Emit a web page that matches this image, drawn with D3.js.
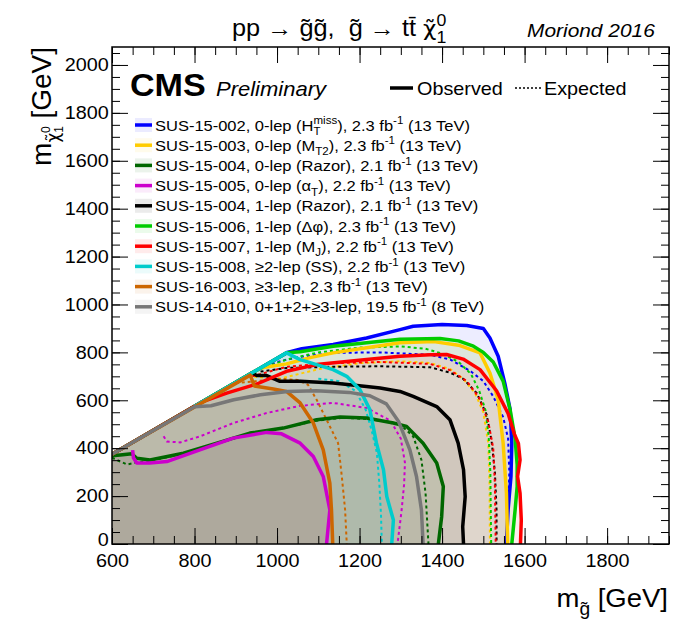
<!DOCTYPE html>
<html>
<head>
<meta charset="utf-8">
<script src="https://cdn.jsdelivr.net/npm/d3@7"></script>
<style>
  body { margin: 0; background: #fff; }
  svg { font-family: "Liberation Sans", Arial, Helvetica, sans-serif; }
  text { white-space: pre; }
</style>
</head>
<body>
<svg id="chart" width="674" height="623"></svg>
<script>
// analyses, in legend order
const labels = [
    "SUS-15-002, 0-lep (H_{T}^{miss}), 2.3 fb^{-1} (13 TeV)",
    "SUS-15-003, 0-lep (M_{T2}), 2.3 fb^{-1} (13 TeV)",
    "SUS-15-004, 0-lep (Razor), 2.1 fb^{-1} (13 TeV)",
    "SUS-15-005, 0-lep (α_{T}), 2.2 fb^{-1} (13 TeV)",
    "SUS-15-004, 1-lep (Razor), 2.1 fb^{-1} (13 TeV)",
    "SUS-15-006, 1-lep (Δφ), 2.3 fb^{-1} (13 TeV)",
    "SUS-15-007, 1-lep (M_{J}), 2.2 fb^{-1} (13 TeV)",
    "SUS-15-008, ≥2-lep (SS), 2.2 fb^{-1} (13 TeV)",
    "SUS-16-003, ≥3-lep, 2.3 fb^{-1} (13 TeV)",
    "SUS-14-010, 0+1+2+≥3-lep, 19.5 fb^{-1} (8 TeV)"
];
const colors = ["#0000ff", "#ffcc00", "#006600", "#cc00cc", "#000000",
                "#00cc00", "#ff0000", "#00cccc", "#cc6600", "#777777"];

// observed limits [m_gluino, m_LSP]
const obsHTmiss = [[600,375],[1025,800],[1060,815],[1136,833],[1217,860],[1298,895],[1330,909],[1400,916],[1460,912],[1500,900],[1516,860],[1536,784],[1552,672],[1565,561],[1569,421],[1567,282],[1560,142],[1556,0]];
const obsMT2 = [[600,375],[960,735],[1023,752],[1080,778],[1136,798],[1217,819],[1298,840],[1380,845],[1440,830],[1492,798],[1516,714],[1536,602],[1548,421],[1556,212],[1559,0]];
const obsRazor0l = [[600,368],[620,372],[648,377],[660,358],[692,351],[773,379],[854,421],[934,463],[1015,484],[1096,519],[1153,530],[1217,526],[1282,505],[1314,491],[1354,421],[1387,338],[1403,240],[1399,114],[1391,0]];
const obsAlphaT = [[650,392],[652,360],[660,338],[692,338],[733,344],[813,393],[894,442],[975,466],[1011,460],[1056,421],[1088,365],[1112,282],[1128,142],[1120,0]];
const obsRazor1l = [[600,375],[940,715],[951,703],[975,703],[1007,679],[1056,679],[1136,672],[1217,658],[1250,651],[1298,637],[1330,616],[1387,574],[1419,519],[1439,421],[1452,310],[1456,198],[1450,72],[1452,0]];
const obsDPhi = [[600,375],[1023,798],[1056,803],[1136,826],[1217,840],[1298,855],[1395,858],[1440,848],[1476,826],[1500,800],[1524,760],[1548,680],[1565,560],[1577,440],[1582,330],[1582,240],[1577,142],[1569,0]];
const obsMJ = [[600,375],[820,595],[878,630],[951,668],[1023,721],[1096,749],[1217,770],[1298,784],[1371,790],[1411,791],[1451,772],[1492,728],[1532,640],[1560,545],[1575,460],[1585,420],[1589,351],[1583,282],[1589,212],[1592,100],[1590,0]];
const obsSS = [[800,575],[1023,798],[1056,770],[1096,749],[1136,728],[1169,700],[1201,644],[1225,561],[1241,421],[1258,310],[1266,198],[1282,100],[1278,0]];
const obs3l = [[600,375],[935,705],[945,660],[991,647],[1023,637],[1056,589],[1088,505],[1112,393],[1128,254],[1132,142],[1135,0]];
const obsRun1 = [[600,375],[800,573],[840,577],[895,602],[960,623],[1025,637],[1095,640],[1175,633],[1225,619],[1265,585],[1295,510],[1322,393],[1338,282],[1350,142],[1354,0]];

// expected limits
const expHTmiss = [[960,735],[1000,760],[1050,780],[1136,798],[1250,800],[1371,790],[1420,770],[1470,720],[1500,680],[1524,616],[1548,530],[1560,440],[1563,300],[1560,140],[1558,0]];
const expMT2 = [[930,700],[1007,690],[1100,730],[1200,755],[1298,763],[1371,756],[1420,730],[1451,690],[1480,630],[1500,550],[1512,421],[1515,250],[1516,0]];
const expRazor0l = [[600,360],[636,332],[660,340],[700,350],[773,377],[854,420],[934,460],[1015,484],[1096,515],[1160,527],[1217,522],[1270,510],[1298,500],[1330,449],[1350,351],[1360,212],[1367,0]];
const expAlphaT = [[725,450],[733,428],[765,424],[813,449],[894,505],[975,547],[1056,577],[1136,589],[1217,568],[1275,515],[1300,440],[1310,340],[1308,250],[1302,142],[1292,0]];
const expRazor1l = [[960,720],[1023,735],[1136,740],[1250,742],[1371,738],[1420,715],[1451,690],[1484,630],[1508,540],[1520,430],[1528,300],[1532,142],[1532,0]];
const expDPhi = [[960,730],[1023,770],[1100,800],[1200,820],[1300,825],[1360,815],[1400,795],[1440,760],[1470,710],[1490,640],[1505,560],[1513,450],[1517,300],[1519,0]];
const expMJ = [[940,700],[1023,740],[1136,755],[1250,760],[1371,752],[1420,725],[1460,680],[1490,610],[1512,510],[1524,400],[1528,250],[1530,0]];
const expSS = [[1100,690],[1150,680],[1190,640],[1215,560],[1230,470],[1242,380],[1248,250],[1252,120],[1254,0]];
const exp3l = [[900,672],[950,680],[1000,690],[1050,685],[1075,665],[1096,602],[1120,519],[1148,421],[1157,282],[1165,142],[1169,0]];

const observed = [obsHTmiss, obsMT2, obsRazor0l, obsAlphaT, obsRazor1l, obsDPhi, obsMJ, obsSS, obs3l, obsRun1];
const expected = [expHTmiss, expMT2, expRazor0l, expAlphaT, expRazor1l, expDPhi, expMJ, expSS, exp3l, null];

const xTicks = [600, 800, 1000, 1200, 1400, 1600, 1800];
const yTicks = [0, 200, 400, 600, 800, 1000, 1200, 1400, 1600, 1800, 2000];

//Plot Frame
const frame = {left: 112, right: 669, top: 47, bottom: 544};
const stretch = "scale(1.1,1)";   // the original lettering is a bit wide
const svg = d3.select("#chart");

const x = d3.scaleLinear().domain([600, 1950]).range([frame.left, frame.right]);
const y = d3.scaleLinear().domain([0, 2075]).range([frame.bottom, frame.top]);

svg.append("clipPath").attr("id", "clip")
    .append("rect").attr("x", frame.left).attr("y", frame.top)
    .attr("width", frame.right - frame.left).attr("height", frame.bottom - frame.top);

const plot = svg.append("g").attr("clip-path", "url(#clip)");
const line = d3.line().x(d => x(d[0])).y(d => y(d[1]));

//Fills under each observed contour, closed along the bottom and the kinematic edge
observed.forEach((c, i) => {
    const poly = c.concat([[c[c.length - 1][0], 0], [600, 0], [600, 375]]);
    plot.append("path").attr("d", line(poly) + "Z")
        .attr("fill", colors[i]).attr("fill-opacity", 0.07).attr("stroke", "none");
});

//Expected (dotted)
expected.forEach((c, i) => {
    if (!c) return;
    plot.append("path").attr("d", line(c))
        .attr("fill", "none").attr("stroke", colors[i])
        .attr("stroke-width", 2).attr("stroke-dasharray", "3,3");
});

//Observed (solid)
observed.forEach((c, i) => {
    plot.append("path").attr("d", line(c))
        .attr("fill", "none").attr("stroke", colors[i])
        .attr("stroke-width", 3.5).attr("stroke-linejoin", "round");
});

//Axes, ticks pointing inward
function styleAxis(g) {
    g.select(".domain").remove();
    g.selectAll("line").attr("stroke", "#000").attr("stroke-width", 1);
    g.selectAll("text").attr("fill", "#000").attr("transform", stretch)
        .style("font-size", "18px")
        .style("font-family", "'Liberation Sans', Arial, sans-serif");
}
const minorX = d3.range(600, 1951, 50), minorY = d3.range(0, 2076, 50);
const fmt = d3.format("d");

svg.append("g").attr("transform", "translate(0," + frame.bottom + ")")
    .call(d3.axisBottom(x).tickValues(minorX).tickSizeInner(-8).tickSizeOuter(0).tickFormat(""))
    .call(styleAxis);
svg.append("g").attr("transform", "translate(0," + frame.bottom + ")")
    .call(d3.axisBottom(x).tickValues(xTicks).tickSizeInner(-16).tickSizeOuter(0).tickPadding(10).tickFormat(fmt))
    .call(styleAxis);
svg.append("g").attr("transform", "translate(0," + frame.top + ")")
    .call(d3.axisTop(x).tickValues(minorX).tickSizeInner(-8).tickSizeOuter(0).tickFormat(""))
    .call(styleAxis);
svg.append("g").attr("transform", "translate(0," + frame.top + ")")
    .call(d3.axisTop(x).tickValues(xTicks).tickSizeInner(-16).tickSizeOuter(0).tickFormat(""))
    .call(styleAxis);

svg.append("g").attr("transform", "translate(" + frame.left + ",0)")
    .call(d3.axisLeft(y).tickValues(minorY).tickSizeInner(-8).tickSizeOuter(0).tickFormat(""))
    .call(styleAxis);
const yAxisG = svg.append("g").attr("transform", "translate(" + frame.left + ",0)")
    .call(d3.axisLeft(y).tickValues(yTicks).tickSizeInner(-16).tickSizeOuter(0).tickPadding(3).tickFormat(fmt))
    .call(styleAxis);
// lift the corner "0" a little so it clears the "600" below it
yAxisG.selectAll("text").filter(d => d === 0).attr("dy", "0.1em");
svg.append("g").attr("transform", "translate(" + frame.right + ",0)")
    .call(d3.axisRight(y).tickValues(minorY).tickSizeInner(-8).tickSizeOuter(0).tickFormat(""))
    .call(styleAxis);
svg.append("g").attr("transform", "translate(" + frame.right + ",0)")
    .call(d3.axisRight(y).tickValues(yTicks).tickSizeInner(-16).tickSizeOuter(0).tickFormat(""))
    .call(styleAxis);

svg.append("rect").attr("x", frame.left).attr("y", frame.top)
    .attr("width", frame.right - frame.left).attr("height", frame.bottom - frame.top)
    .attr("fill", "none").attr("stroke", "#000").attr("stroke-width", 1.5);

//Text with _{sub} and ^{sup}
function richText(sel, str, size) {
    const parts = str.split(/(_\{[^}]*\}|\^\{[^}]*\})/).filter(s => s.length);
    let shift = 0, prev = null;
    parts.forEach(p => {
        let kind = "n", target = 0, txt = p;
        if (p.startsWith("_{")) { kind = "sub"; target = size * 0.3; txt = p.slice(2, -1); }
        else if (p.startsWith("^{")) { kind = "sup"; target = -size * 0.42; txt = p.slice(2, -1); }
        const t = sel.append("tspan").attr("dy", target - shift).text(txt);
        if (kind !== "n") t.style("font-size", (size * 0.7) + "px");
        if (kind === "sup" && prev && prev.kind === "sub") t.attr("dx", -prev.node.getComputedTextLength());
        prev = {kind: kind, node: t.node()};
        shift = target;
    });
}

function addText(px, py, size) {
    return svg.append("text")
        .attr("transform", "translate(" + px + "," + py + ") " + stretch)
        .style("font-size", size + "px");
}

//Title
const title = addText(232, 36, 23);
richText(title, "pp → g\u0303g\u0303,  g\u0303 → tt\u0304 ", 23);
title.append("tspan").style("font-family", "'DejaVu Sans'").style("font-size", "21px").text("χ\u0303");
richText(title, "_{1}^{0}", 23);

addText(527, 37, 19).style("font-style", "italic").text("Moriond 2016");

//Axis titles
const xt = addText(668, 607, 25).attr("text-anchor", "end");
richText(xt, "m_{g\u0303} [GeV]", 25);

const yt = svg.append("text").attr("transform", "translate(51,47) rotate(-90)")
    .attr("text-anchor", "end").style("font-size", "28px");
yt.append("tspan").text("m");
yt.append("tspan").attr("dy", 8).style("font-family", "'DejaVu Sans'").style("font-size", "17px").text("χ\u0303");
yt.append("tspan").attr("dy", 4).style("font-size", "12px").text("1");
yt.append("tspan").attr("dx", -7).attr("dy", -13).style("font-size", "12px").text("0");
yt.append("tspan").attr("dy", 1).text(" [GeV]");

//CMS label
addText(130, 96, 31).style("font-weight", "bold").text("CMS");
addText(216, 96, 20).style("font-style", "italic").text("Preliminary");

//Legend header
svg.append("line").attr("x1", 390).attr("x2", 413).attr("y1", 88).attr("y2", 88)
    .attr("stroke", "#000").attr("stroke-width", 3.5);
addText(417, 95, 18).text("Observed");
svg.append("line").attr("x1", 515).attr("x2", 541).attr("y1", 88).attr("y2", 88)
    .attr("stroke", "#000").attr("stroke-width", 1.5).attr("stroke-dasharray", "2,2");
addText(544, 95, 18).text("Expected");

//Legend entries
const legend = svg.append("g");
labels.forEach((lab, i) => {
    const cy = 125 + i * 20.2;
    legend.append("rect").attr("x", 135).attr("y", cy - 7).attr("width", 17).attr("height", 14)
        .attr("fill", colors[i]).attr("fill-opacity", 0.08);
    legend.append("line").attr("x1", 135).attr("x2", 152).attr("y1", cy).attr("y2", cy)
        .attr("stroke", colors[i]).attr("stroke-width", 3.5);
    const t = addText(155, cy + 5.5, 15);
    richText(t, lab, 15);
});
</script>
</body>
</html>
